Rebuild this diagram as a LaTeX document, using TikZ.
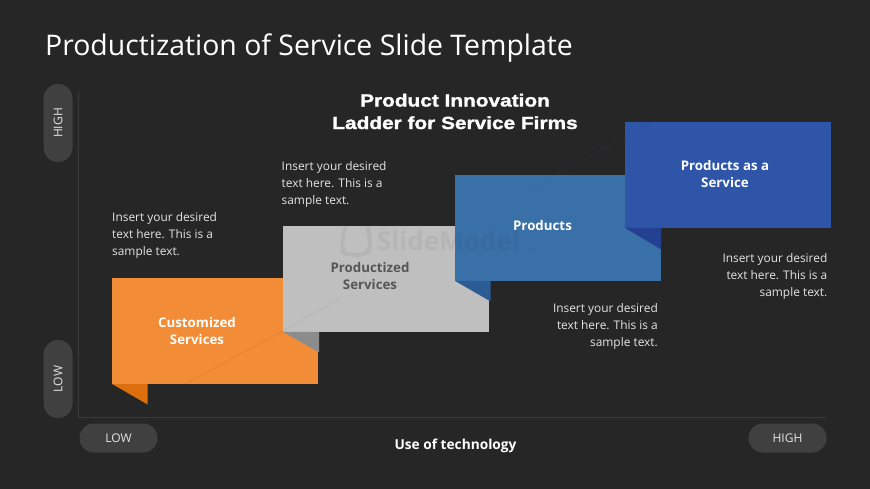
\documentclass[tikz,border=0pt]{standalone}
\usepackage{fontspec}
\setmainfont{Open Sans}
\newfontfamily\headfont[FakeStretch=1.19,BoldFeatures={FakeBold=1.5}]{Liberation Sans}
\definecolor{bgc}{HTML}{262626}
\definecolor{pillc}{HTML}{404040}
\definecolor{axisc}{HTML}{3A3A3A}
\definecolor{bodyc}{HTML}{E4E4E4}
\definecolor{orangec}{HTML}{F28C36}
\definecolor{orangefold}{HTML}{DD6F0F}
\definecolor{grayc}{HTML}{BFBFBF}
\definecolor{grayfold}{HTML}{8C8C8C}
\definecolor{bluec}{HTML}{3A70A8}
\definecolor{bluefold}{HTML}{2B5C93}
\definecolor{navyc}{HTML}{2F55A8}
\definecolor{navyfold}{HTML}{234190}
\tikzset{
  panel/.style={draw=none,minimum width=206pt,minimum height=105.5pt,inner sep=0pt,anchor=north west},
  paneltext/.style={align=center,font=\fontsize{13.3}{17}\selectfont\bfseries,inner sep=0pt,text=white},
  body/.style={align=left,font=\fontsize{11.9}{17}\selectfont,text=bodyc,inner sep=0pt,anchor=west},
  bodyr/.style={align=right,font=\fontsize{11.9}{17}\selectfont,text=bodyc,inner sep=0pt,anchor=east},
  pillh/.style={fill=pillc,rounded corners=14.5pt,minimum width=78pt,minimum height=29pt,inner sep=0pt,text=bodyc,font=\fontsize{12}{13}\selectfont},
  pillv/.style={fill=pillc,rounded corners=14.5pt,minimum width=29pt,minimum height=78pt,inner sep=0pt,text=bodyc,font=\fontsize{12}{13}\selectfont},
  crease/.style={line width=0.4pt,opacity=0.25},
  wmark/.style={inner sep=0pt,text=black,text opacity=0.05,font=\bfseries}
}
\begin{document}
\begin{tikzpicture}[x=1pt,y=-1pt]
\useasboundingbox (0,0) rectangle (870,489);
\fill[bgc] (0,0) rectangle (870,489);
\node[anchor=west,inner sep=0pt,text=white,font=\fontsize{28.4}{32}\selectfont] (title) at (45,48) {Productization of Service Slide Template};
% axes
\coordinate (axtop) at (78,92);
\coordinate (axorigin) at (78,417.5);
\coordinate (axright) at (826,417.5);
\draw[axisc,line width=0.8pt] (axtop) -- (axorigin) -- (axright);
% pills
\node[pillv] (yhigh) at (58,123) {\rotatebox{90}{HIGH}};
\node[pillv] (ylow) at (58,379) {\rotatebox{90}{LOW}};
\node[pillh] (xlow) at (118.5,438) {LOW};
\node[pillh] (xhigh) at (787.5,438) {HIGH};
\node[text=white,inner sep=0pt,font=\fontsize{13.7}{16}\selectfont\bfseries] (xlabel) at (455.5,445.5) {Use of technology};
% heading
\node[align=center,inner sep=0pt,text=white,font=\headfont\fontsize{17.5}{22.5}\selectfont\bfseries] (heading) at (455,111.5) {Product Innovation\\Ladder for Service Firms};
% faint crease lines behind
\coordinate (c1) at (185,384);
\coordinate (c2) at (342,297);
\coordinate (c3) at (530,190);
\coordinate (c4) at (655,120);
% orange
\node[panel,fill=orangec] (p1) at (112,278) {};
\fill[orangefold] (p1.south west) -- ++(35.5,20.5) -- ++(0,-20.5) -- cycle;
\draw[crease,orangefold!70!black] (c1) -- (283,331);
% gray
\node[panel,fill=grayc] (p2) at (283,226) {};
\fill[grayfold] (p2.south west) -- ++(36,20.5) -- ++(0,-20.5) -- cycle;
\draw[crease,gray] (283,331) -- (c2);
% blue
\node[panel,fill=bluec] (p3) at (455,175) {};
\fill[bluefold] (p3.south west) -- ++(35.5,20.5) -- ++(0,-20.5) -- cycle;
\draw[crease,bluefold] (c3) -- (625,137);
% watermark
\draw[black,opacity=0.05,line width=4pt,rounded corners=8pt] (345,227) -- (341,250) -- (347,255) -- (366,255) -- (371,248) -- (368,227);
\node[wmark,font=\fontsize{26}{30}\selectfont\bfseries,anchor=west] (wm) at (377,241) {SlideModel};
\node[wmark,font=\fontsize{7}{9}\selectfont,anchor=west] (wmcom) at (521,250) {.com};
% navy
\node[panel,fill=navyc] (p4) at (625,122) {};
\fill[navyfold] (p4.south west) -- ++(36,21.5) -- ++(0,-21.5) -- cycle;
\draw[crease,navyfold] (625,137) -- (c4);
% panel text
\node[paneltext] (t1) at (197,330.8) {Customized\\Services};
\node[paneltext,text=black!55!grayc] (t2) at (370,276) {Productized\\Services};
\node[paneltext] (t3) at (542.5,226) {Products};
\node[paneltext] (t4) at (725,173.8) {Products as a\\Service};
% body text
\node[body] (b1) at (112,235) {Insert your desired\\text here. This is a\\sample text.};
\node[body] (b2) at (281.5,184) {Insert your desired\\text here. This is a\\sample text.};
\node[bodyr] (b3) at (658,326) {Insert your desired\\text here. This is a\\sample text.};
\node[bodyr] (b4) at (827.5,276) {Insert your desired\\text here. This is a\\sample text.};
\end{tikzpicture}
\end{document}
